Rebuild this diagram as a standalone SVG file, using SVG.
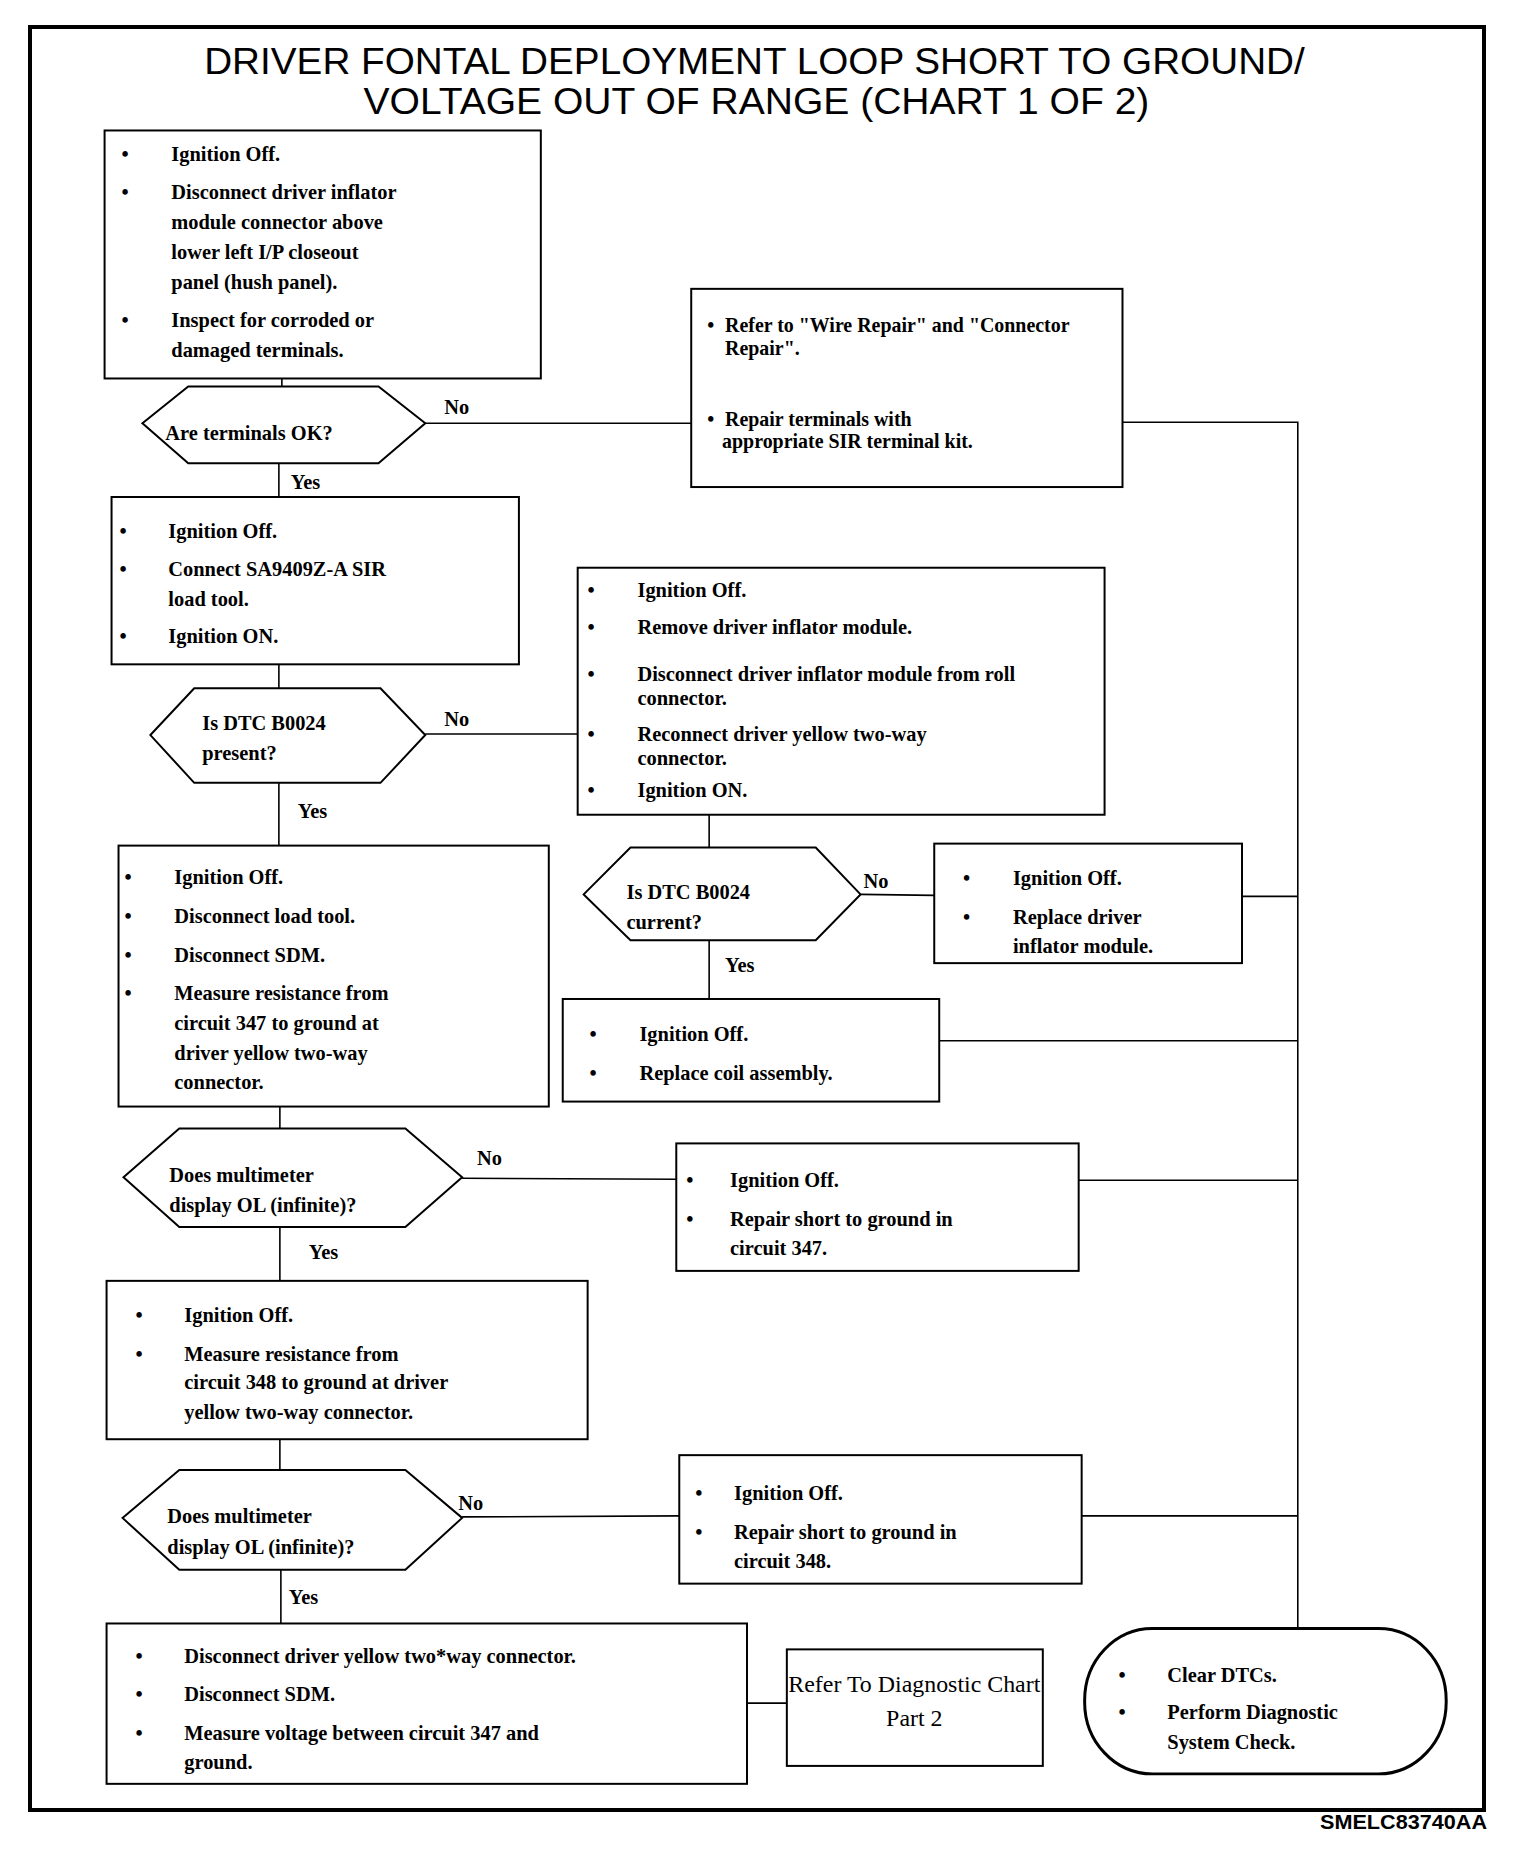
<svg xmlns="http://www.w3.org/2000/svg" width="1520" height="1860" viewBox="0 0 1520 1860">
<style>
.bg{fill:#fff}
.frame{fill:none;stroke:#000;stroke-width:4}
.box{fill:#fff;stroke:#000;stroke-width:2}
.dec{fill:#fff;stroke:#000;stroke-width:2;stroke-linejoin:miter}
.term{fill:#fff;stroke:#000;stroke-width:3}
.ln{fill:none;stroke:#000;stroke-width:1.6}
.t{font-family:"Liberation Serif","Times New Roman",serif;font-weight:bold;font-size:20.5px;fill:#000}
.s{font-size:20px}
.n{font-weight:normal;font-size:24px}
.title{font-family:"Liberation Sans",Arial,sans-serif;font-size:38px;fill:#000}
.code{font-family:"Liberation Sans",Arial,sans-serif;font-weight:bold;font-size:21px;fill:#000}
</style>
<rect class="bg" x="0" y="0" width="1520" height="1860"/>
<rect class="frame" x="30" y="27" width="1454" height="1783"/>
<text class="code" x="1320" y="1829" textLength="167" lengthAdjust="spacingAndGlyphs">SMELC83740AA</text>
<g transform="scale(0.996)">
<g id="title">
<text class="title" x="205" y="74" textLength="1105" lengthAdjust="spacingAndGlyphs">DRIVER FONTAL DEPLOYMENT LOOP SHORT TO GROUND/</text>
<text class="title" x="365" y="114" textLength="789" lengthAdjust="spacingAndGlyphs">VOLTAGE OUT OF RANGE (CHART 1 OF 2)</text>
</g>
<g id="connectors">
<line class="ln" x1="283" y1="380" x2="283" y2="388"/>
<line class="ln" x1="280" y1="465" x2="280" y2="499"/>
<line class="ln" x1="280" y1="667" x2="280" y2="691"/>
<line class="ln" x1="280" y1="786" x2="280" y2="849"/>
<line class="ln" x1="712" y1="818" x2="712" y2="851"/>
<line class="ln" x1="712" y1="944" x2="712" y2="1003"/>
<line class="ln" x1="281" y1="1111" x2="281" y2="1133"/>
<line class="ln" x1="281" y1="1232" x2="281" y2="1286"/>
<line class="ln" x1="281" y1="1445" x2="281" y2="1476"/>
<line class="ln" x1="282" y1="1576" x2="282" y2="1630"/>
<line class="ln" x1="427" y1="425" x2="694" y2="425"/>
<polyline class="ln" points="1127,424 1303,424 1303,1635"/>
<line class="ln" x1="427" y1="737" x2="580" y2="737"/>
<line class="ln" x1="864" y1="898" x2="938" y2="899"/>
<line class="ln" x1="1247" y1="900" x2="1303" y2="900"/>
<line class="ln" x1="943" y1="1045" x2="1303" y2="1045"/>
<line class="ln" x1="464" y1="1183" x2="679" y2="1184"/>
<line class="ln" x1="1083" y1="1185" x2="1303" y2="1185"/>
<line class="ln" x1="464" y1="1523" x2="682" y2="1522"/>
<line class="ln" x1="1086" y1="1522" x2="1303" y2="1522"/>
<line class="ln" x1="750" y1="1710" x2="790" y2="1710"/>
<text class="t" x="446" y="416">No</text>
<text class="t" x="292" y="491">Yes</text>
<text class="t" x="446" y="729">No</text>
<text class="t" x="299" y="821">Yes</text>
<text class="t" x="867" y="892">No</text>
<text class="t" x="728" y="976">Yes</text>
<text class="t" x="479" y="1170">No</text>
<text class="t" x="310" y="1264">Yes</text>
<text class="t" x="460" y="1516">No</text>
<text class="t" x="290" y="1610">Yes</text>
</g>
<g id="box1">
<rect class="box" x="105" y="131" width="438" height="249"/>
<text class="t"><tspan x="122" y="162">•</tspan><tspan x="172" y="162">Ignition Off.</tspan><tspan x="122" y="200">•</tspan><tspan x="172" y="200">Disconnect driver inflator</tspan><tspan x="172" y="230">module connector above</tspan><tspan x="172" y="260">lower left I/P closeout</tspan><tspan x="172" y="290">panel (hush panel).</tspan><tspan x="122" y="328">•</tspan><tspan x="172" y="328">Inspect for corroded or</tspan><tspan x="172" y="358">damaged terminals.</tspan></text>
</g>
<g id="dec1">
<polygon class="dec" points="143,425 189,388 380,388 427,425 380,465 189,465"/>
<text class="t" x="166" y="442">Are terminals OK?</text>
</g>
<g id="box2">
<rect class="box" x="694" y="290" width="433" height="199"/>
<text class="t s"><tspan x="710" y="333">•</tspan><tspan x="728" y="333">Refer to "Wire Repair" and "Connector</tspan><tspan x="728" y="356">Repair".</tspan><tspan x="710" y="428">•</tspan><tspan x="728" y="428">Repair terminals with</tspan><tspan x="725" y="450">appropriate SIR terminal kit.</tspan></text>
</g>
<g id="box3">
<rect class="box" x="112" y="499" width="409" height="168"/>
<text class="t"><tspan x="120" y="540">•</tspan><tspan x="169" y="540">Ignition Off.</tspan><tspan x="120" y="578">•</tspan><tspan x="169" y="578">Connect SA9409Z-A SIR</tspan><tspan x="169" y="608">load tool.</tspan><tspan x="120" y="646">•</tspan><tspan x="169" y="646">Ignition ON.</tspan></text>
</g>
<g id="dec2">
<polygon class="dec" points="151,738 195,691 382,691 427,738 382,786 195,786"/>
<text class="t"><tspan x="203" y="733">Is DTC B0024</tspan><tspan x="203" y="763">present?</tspan></text>
</g>
<g id="box4">
<rect class="box" x="580" y="570" width="529" height="248"/>
<text class="t"><tspan x="590" y="599">•</tspan><tspan x="640" y="599">Ignition Off.</tspan><tspan x="590" y="637">•</tspan><tspan x="640" y="637">Remove driver inflator module.</tspan><tspan x="590" y="684">•</tspan><tspan x="640" y="684">Disconnect driver inflator module from roll</tspan><tspan x="640" y="708">connector.</tspan><tspan x="590" y="744">•</tspan><tspan x="640" y="744">Reconnect driver yellow two-way</tspan><tspan x="640" y="768">connector.</tspan><tspan x="590" y="800">•</tspan><tspan x="640" y="800">Ignition ON.</tspan></text>
</g>
<g id="dec3">
<polygon class="dec" points="586,898 633,851 819,851 864,898 819,944 633,944"/>
<text class="t"><tspan x="629" y="903">Is DTC B0024</tspan><tspan x="629" y="933">current?</tspan></text>
</g>
<g id="box5">
<rect class="box" x="119" y="849" width="432" height="262"/>
<text class="t"><tspan x="125" y="888">•</tspan><tspan x="175" y="888">Ignition Off.</tspan><tspan x="125" y="927">•</tspan><tspan x="175" y="927">Disconnect load tool.</tspan><tspan x="125" y="966">•</tspan><tspan x="175" y="966">Disconnect SDM.</tspan><tspan x="125" y="1004">•</tspan><tspan x="175" y="1004">Measure resistance from</tspan><tspan x="175" y="1034">circuit 347 to ground at</tspan><tspan x="175" y="1064">driver yellow two-way</tspan><tspan x="175" y="1093">connector.</tspan></text>
</g>
<g id="box6">
<rect class="box" x="938" y="847" width="309" height="120"/>
<text class="t"><tspan x="967" y="889">•</tspan><tspan x="1017" y="889">Ignition Off.</tspan><tspan x="967" y="928">•</tspan><tspan x="1017" y="928">Replace driver</tspan><tspan x="1017" y="957">inflator module.</tspan></text>
</g>
<g id="box7">
<rect class="box" x="565" y="1003" width="378" height="103"/>
<text class="t"><tspan x="592" y="1045">•</tspan><tspan x="642" y="1045">Ignition Off.</tspan><tspan x="592" y="1084">•</tspan><tspan x="642" y="1084">Replace coil assembly.</tspan></text>
</g>
<g id="dec4">
<polygon class="dec" points="124,1182 180,1133 407,1133 464,1182 407,1232 180,1232"/>
<text class="t"><tspan x="170" y="1187">Does multimeter</tspan><tspan x="170" y="1217">display OL (infinite)?</tspan></text>
</g>
<g id="box8">
<rect class="box" x="679" y="1148" width="404" height="128"/>
<text class="t"><tspan x="689" y="1192">•</tspan><tspan x="733" y="1192">Ignition Off.</tspan><tspan x="689" y="1231">•</tspan><tspan x="733" y="1231">Repair short to ground in</tspan><tspan x="733" y="1260">circuit 347.</tspan></text>
</g>
<g id="box9">
<rect class="box" x="107" y="1286" width="483" height="159"/>
<text class="t"><tspan x="136" y="1327">•</tspan><tspan x="185" y="1327">Ignition Off.</tspan><tspan x="136" y="1366">•</tspan><tspan x="185" y="1366">Measure resistance from</tspan><tspan x="185" y="1395">circuit 348 to ground at driver</tspan><tspan x="185" y="1425">yellow two-way connector.</tspan></text>
</g>
<g id="dec5">
<polygon class="dec" points="123,1524 180,1476 407,1476 464,1524 407,1576 180,1576"/>
<text class="t"><tspan x="168" y="1529">Does multimeter</tspan><tspan x="168" y="1560">display OL (infinite)?</tspan></text>
</g>
<g id="box10">
<rect class="box" x="682" y="1461" width="404" height="129"/>
<text class="t"><tspan x="698" y="1506">•</tspan><tspan x="737" y="1506">Ignition Off.</tspan><tspan x="698" y="1545">•</tspan><tspan x="737" y="1545">Repair short to ground in</tspan><tspan x="737" y="1574">circuit 348.</tspan></text>
</g>
<g id="box11">
<rect class="box" x="107" y="1630" width="643" height="161"/>
<text class="t"><tspan x="136" y="1670">•</tspan><tspan x="185" y="1670">Disconnect driver yellow two*way connector.</tspan><tspan x="136" y="1708">•</tspan><tspan x="185" y="1708">Disconnect SDM.</tspan><tspan x="136" y="1747">•</tspan><tspan x="185" y="1747">Measure voltage between circuit 347 and</tspan><tspan x="185" y="1776">ground.</tspan></text>
</g>
<g id="box12">
<rect class="box" x="790" y="1656" width="257" height="117"/>
<text class="t n" text-anchor="middle"><tspan x="918" y="1699">Refer To Diagnostic Chart</tspan><tspan x="918" y="1733">Part 2</tspan></text>
</g>
<g id="term">
<rect class="term" x="1089" y="1635" width="363" height="146" rx="68" ry="72"/>
<text class="t"><tspan x="1123" y="1689">•</tspan><tspan x="1172" y="1689">Clear DTCs.</tspan><tspan x="1123" y="1726">•</tspan><tspan x="1172" y="1726">Perform Diagnostic</tspan><tspan x="1172" y="1756">System Check.</tspan></text>
</g>
</g>
</svg>
